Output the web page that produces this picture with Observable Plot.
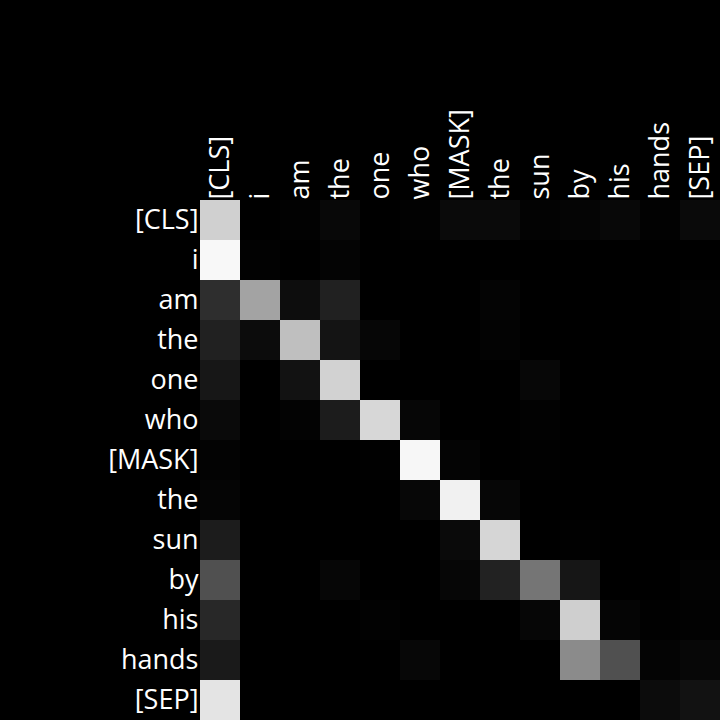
<!DOCTYPE html>
<html>
<head>
<meta charset="utf-8">
<script src="https://cdn.jsdelivr.net/npm/d3@7"></script>
<script src="https://cdn.jsdelivr.net/npm/@observablehq/plot@0.6"></script>
<style>
  html, body { margin: 0; padding: 0; background: #000; }
  #chart svg { display: block; }
</style>
</head>
<body>
<div id="chart"></div>
<script>
const tokens = ["[CLS]", "i", "am", "the", "one", "who", "[MASK]", "the", "sun", "by", "his", "hands", "[SEP]"];

// attention weights (gray level 0..255) per query row, key columns in token order
const rowCLS   = [208, 0, 2, 8, 0, 2, 10, 10, 3, 5, 8, 2, 10];
const rowI     = [248, 2, 0, 4, 0, 0, 0, 0, 0, 0, 0, 0, 0];
const rowAm    = [46, 163, 13, 33, 0, 0, 0, 4, 0, 0, 0, 0, 2];
const rowThe1  = [33, 12, 191, 20, 6, 0, 0, 3, 0, 0, 0, 0, 1];
const rowOne   = [23, 0, 18, 210, 0, 0, 0, 0, 7, 0, 0, 0, 0];
const rowWho   = [10, 0, 3, 28, 215, 6, 0, 0, 2, 0, 0, 0, 0];
const rowMask  = [3, 0, 0, 0, 1, 247, 4, 0, 1, 0, 0, 0, 0];
const rowThe2  = [5, 0, 0, 0, 0, 7, 241, 6, 0, 0, 0, 0, 0];
const rowSun   = [28, 0, 0, 0, 0, 0, 10, 214, 0, 1, 0, 0, 0];
const rowBy    = [80, 0, 0, 6, 0, 0, 6, 34, 117, 22, 0, 0, 3];
const rowHis   = [40, 0, 0, 0, 2, 0, 0, 0, 6, 207, 5, 1, 2];
const rowHands = [26, 0, 0, 0, 0, 7, 0, 0, 0, 139, 80, 4, 7];
const rowSEP   = [228, 0, 0, 0, 0, 0, 0, 0, 0, 0, 0, 12, 18];

const rows = [rowCLS, rowI, rowAm, rowThe1, rowOne, rowWho, rowMask, rowThe2, rowSun, rowBy, rowHis, rowHands, rowSEP];

const cells = [];
rows.forEach((r, i) => r.forEach((v, j) => cells.push({q: i, k: j, v})));

const chart = Plot.plot({
  width: 720,
  height: 720,
  marginLeft: 200,
  marginTop: 200,
  marginRight: 0,
  marginBottom: 0,
  style: {background: "#000", color: "#fff", fontFamily: "'Open Sans', sans-serif", fontSize: "27px"},
  x: {domain: d3.range(13), padding: 0, axis: "top", tickFormat: i => tokens[i], tickRotate: -90, tickSize: 0, tickPadding: 1, label: null},
  y: {domain: d3.range(13), padding: 0, tickFormat: i => tokens[i], tickSize: 0, tickPadding: 2, label: null},
  color: {type: "linear", domain: [0, 255], interpolate: t => d3.rgb(255 * t, 255 * t, 255 * t).toString()},
  marks: [
    Plot.cell(cells, {x: "k", y: "q", fill: "v", inset: 0})
  ]
});
document.getElementById("chart").appendChild(chart);
</script>
</body>
</html>
